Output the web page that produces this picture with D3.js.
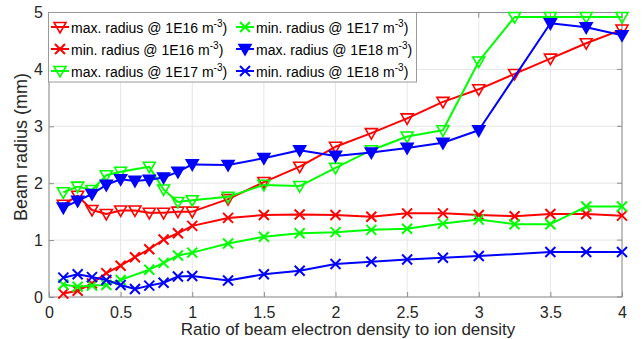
<!DOCTYPE html>
<html>
<head>
<meta charset="utf-8">
<script src="https://cdn.jsdelivr.net/npm/d3@7"></script>
<style>
  body { margin: 0; background: #fff; }
  svg { display: block; font-family: "Liberation Sans", Arial, sans-serif; }
</style>
</head>
<body>
<svg id="chart" width="642" height="339"></svg>
<script>
// ratio of beam electron density to ion density
var xVals = [0.1, 0.2, 0.3, 0.4, 0.5, 0.6, 0.7, 0.8, 0.9, 1.0, 1.25, 1.5, 1.75, 2.0, 2.25, 2.5, 2.75, 3.0, 3.25, 3.5, 3.75, 4.0];

// beam radius (mm), null = no point
var redMax   = [1.62, 1.78, 1.53, 1.46, 1.52, 1.52, 1.48, 1.48, 1.50, 1.50, 1.72, 2.02, 2.29, 2.64, 2.88, 3.14, 3.43, 3.65, 3.92, 4.19, 4.46, 4.70];
var redMin   = [0.06, 0.11, 0.24, 0.42, 0.55, 0.70, 0.84, 1.01, 1.12, 1.25, 1.39, 1.44, 1.45, 1.44, 1.41, 1.47, 1.47, 1.44, 1.42, 1.46, 1.46, 1.43];
var greenMax = [1.84, 1.94, 1.88, 2.14, 2.20, null, 2.29, 1.89, 1.67, 1.70, 1.76, 1.97, 1.95, 2.27, 2.58, 2.82, 2.93, 4.14, 4.92, 4.92, 4.92, 4.92];
var greenMin = [0.22, 0.18, 0.20, 0.21, 0.30, null, 0.48, 0.60, 0.73, 0.78, 0.94, 1.06, 1.12, 1.14, 1.18, 1.20, 1.29, 1.36, 1.28, 1.28, 1.59, 1.59];
var blueMax  = [1.57, 1.69, 1.81, 1.97, 2.07, 2.04, 2.06, 2.10, 2.20, 2.33, 2.32, 2.44, 2.58, 2.48, 2.54, 2.62, 2.71, 2.93, null, 4.81, 4.74, 4.60];
var blueMin  = [0.34, 0.40, 0.35, 0.30, 0.21, 0.14, 0.20, 0.25, 0.36, 0.37, 0.29, 0.40, 0.46, 0.58, 0.62, 0.66, 0.69, 0.72, null, 0.79, 0.79, 0.79];

var xTicks = [0, 0.5, 1, 1.5, 2, 2.5, 3, 3.5, 4];
var yTicks = [0, 1, 2, 3, 4, 5];

var series = [
  { label: "max. radius @ 1E16 m", values: redMax,   color: "#ff0000", marker: "tri" },
  { label: "min. radius @ 1E16 m", values: redMin,   color: "#ff0000", marker: "x" },
  { label: "max. radius @ 1E17 m", values: greenMax, color: "#00ff00", marker: "tri" },
  { label: "min. radius @ 1E17 m", values: greenMin, color: "#00ff00", marker: "x" },
  { label: "max. radius @ 1E18 m", values: blueMax,  color: "#0000ff", marker: "trifill" },
  { label: "min. radius @ 1E18 m", values: blueMin,  color: "#0000ff", marker: "x" }
];

var svg = d3.select("#chart");
var plotL = 49, plotR = 622, plotT = 12.5, plotB = 297;

var x = d3.scaleLinear().domain([0, 4]).range([plotL, plotR]);
var y = d3.scaleLinear().domain([0, 5]).range([plotB, plotT]);

// grid
var grid = svg.append("g").attr("stroke", "#e6e6e6").attr("stroke-width", 1);
xTicks.forEach(function (t) {
  grid.append("line").attr("x1", x(t)).attr("x2", x(t)).attr("y1", plotT).attr("y2", plotB);
});
yTicks.forEach(function (t) {
  grid.append("line").attr("x1", plotL).attr("x2", plotR).attr("y1", y(t)).attr("y2", y(t));
});

// axes (ticks inward)
var xAxis = svg.append("g").attr("transform", "translate(0," + plotB + ")")
  .call(d3.axisBottom(x).tickValues(xTicks).tickSize(-5).tickPadding(10).tickFormat(d3.format("")));
var yAxis = svg.append("g").attr("transform", "translate(" + plotL + ",0)")
  .call(d3.axisLeft(y).tickValues(yTicks).tickSize(-5).tickPadding(6).tickFormat(d3.format("")));
[xAxis, yAxis].forEach(function (a) {
  a.select(".domain").remove();
  a.selectAll("line").attr("stroke", "#8c8c8c");
  a.selectAll("text").attr("fill", "#262626").style("font-size", "16px")
    .style("font-family", "'Liberation Sans', Arial, sans-serif");
});

// box
svg.append("rect").attr("x", plotL).attr("y", plotT).attr("width", plotR - plotL).attr("height", plotB - plotT)
  .attr("fill", "none").attr("stroke", "#8c8c8c").attr("stroke-width", 1);

// top / right ticks
svg.append("g").attr("stroke", "#8c8c8c").selectAll("line").data(xTicks).join("line")
  .attr("x1", function (d) { return x(d); }).attr("x2", function (d) { return x(d); })
  .attr("y1", plotT).attr("y2", plotT + 5);
svg.append("g").attr("stroke", "#8c8c8c").selectAll("line").data(yTicks).join("line")
  .attr("x1", plotR).attr("x2", plotR - 5)
  .attr("y1", function (d) { return y(d); }).attr("y2", function (d) { return y(d); });

function drawMarker(g, kind, color, cx, cy) {
  if (kind === "x") {
    var s = 5;
    g.append("path")
      .attr("d", "M" + (cx - s) + "," + (cy - s) + "L" + (cx + s) + "," + (cy + s) +
                 "M" + (cx - s) + "," + (cy + s) + "L" + (cx + s) + "," + (cy - s))
      .attr("stroke", color).attr("stroke-width", 2).attr("fill", "none");
  } else {
    var w = 6;
    g.append("path")
      .attr("d", "M" + (cx - w) + "," + (cy - 4.5) + "L" + (cx + w) + "," + (cy - 4.5) + "L" + cx + "," + (cy + 6) + "Z")
      .attr("stroke", color).attr("stroke-width", 1.6)
      .attr("fill", kind === "trifill" ? color : "none");
  }
}

var line = d3.line().x(function (d) { return x(d[0]); }).y(function (d) { return y(d[1]); });

series.forEach(function (s) {
  var pts = xVals.map(function (v, i) { return [v, s.values[i]]; })
    .filter(function (p) { return p[1] !== null; });
  var g = svg.append("g");
  g.append("path").attr("d", line(pts)).attr("fill", "none")
    .attr("stroke", s.color).attr("stroke-width", 2).attr("stroke-linejoin", "round");
  pts.forEach(function (p) { drawMarker(g, s.marker, s.color, x(p[0]), y(p[1])); });
});

// legend
var legend = svg.append("g");
legend.append("rect").attr("x", 48.5).attr("y", 12.5).attr("width", 368).attr("height", 69.5)
  .attr("fill", "#fff").attr("stroke", "#999").attr("stroke-width", 1);
series.forEach(function (s, i) {
  var col = Math.floor(i / 3), row = i % 3;
  var lx = col === 0 ? 51 : 236;
  var by = 33 + row * 22;
  var cy = by - 6;
  legend.append("line").attr("x1", lx).attr("x2", lx + 18).attr("y1", cy).attr("y2", cy)
    .attr("stroke", s.color).attr("stroke-width", 2);
  drawMarker(legend, s.marker, s.color, lx + 9, cy);
  var t = legend.append("text").attr("x", lx + 20).attr("y", by)
    .attr("fill", "#000").style("font-size", "14px");
  t.append("tspan").text(s.label);
  t.append("tspan").attr("dy", -6).style("font-size", "10px").text("-3");
  t.append("tspan").attr("dy", 6).text(")");
});

// axis titles
svg.append("text").attr("x", 348).attr("y", 335).attr("text-anchor", "middle")
  .attr("fill", "#262626").style("font-size", "17px")
  .text("Ratio of beam electron density to ion density");
svg.append("text").attr("transform", "translate(27,147) rotate(-90)").attr("text-anchor", "middle")
  .attr("fill", "#262626").style("font-size", "18px")
  .text("Beam radius (mm)");
</script>
</body>
</html>
